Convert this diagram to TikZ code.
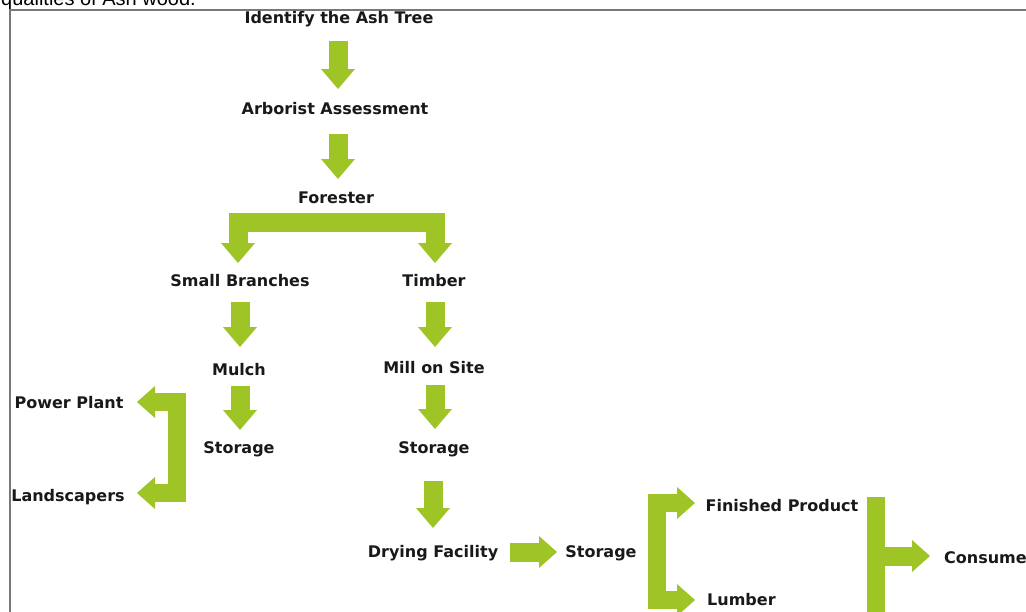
\documentclass[tikz,border=0pt]{standalone}
\usepackage{fontspec}
\setmainfont{DejaVu Sans}
\newfontfamily\capfont{Liberation Sans}
\usetikzlibrary{arrows.meta}
\definecolor{leaf}{RGB}{158,196,38}
\definecolor{ink}{RGB}{25,25,25}
\definecolor{framegray}{RGB}{120,120,120}
\tikzset{
  lbl/.style={font=\fontsize{16}{19}\selectfont\bfseries, text=ink, inner sep=0pt, anchor=base},
  tip/.tip={Triangle[width=34pt,length=20pt,line width=0pt]},
  htip/.tip={Triangle[width=32pt,length=18pt,line width=0pt]},
  blk/.style={draw=leaf, line width=19pt, line join=miter, -tip},
  hblk/.style={draw=leaf, line width=19pt, line join=miter, -htip},
  fork/.style={draw=leaf, line width=19pt, line join=miter, tip-tip},
  hfork/.style={draw=leaf, line width=18pt, line join=miter, htip-htip},
  bar/.style={draw=leaf, line width=18pt},
}
\begin{document}
\begin{tikzpicture}[x=1pt,y=-1pt]
\useasboundingbox (0,0) rectangle (1026,611);
\begin{scope}
\clip (0,0) rectangle (1026,611);
\node[font=\capfont\fontsize{20}{24}\selectfont, anchor=base west, inner sep=0pt, text=black] (cap) at (1,5) {qualities of Ash wood.};
\draw[framegray, line width=1.3pt] (10,615) -- (10,10) -- (1030,10);

% labels
\node[lbl] (idt) at (339,23) {Identify the Ash Tree};
\node[lbl] (arb) at (335,114) {Arborist Assessment};
\node[lbl] (fst) at (336,203) {Forester};
\node[lbl] (smb) at (240,286) {Small Branches};
\node[lbl] (tim) at (434,286) {Timber};
\node[lbl] (mul) at (239,375) {Mulch};
\node[lbl] (mil) at (434,373) {Mill on Site};
\node[lbl] (pwr) at (69,408) {Power Plant};
\node[lbl] (sta) at (239,453) {Storage};
\node[lbl] (stb) at (434,453) {Storage};
\node[lbl] (lnd) at (68,501) {Landscapers};
\node[lbl] (dry) at (433,557) {Drying Facility};
\node[lbl] (stc) at (601,557) {Storage};
\node[lbl] (fin) at (782,511) {Finished Product};
\node[lbl, anchor=base west] (lum) at (707,605) {Lumber};
\node[lbl, anchor=base west] (con) at (944,563) {Consume};

% arrow end points
\coordinate (a1s) at (338,41);  \coordinate (a1e) at (338,89);
\coordinate (a2s) at (338,134); \coordinate (a2e) at (338,179);
\coordinate (fl) at (238,263); \coordinate (flc) at (238,222);
\coordinate (frc) at (435,222); \coordinate (fr) at (435,263);
\coordinate (a3s) at (240,302); \coordinate (a3e) at (240,347);
\coordinate (a4s) at (435,302); \coordinate (a4e) at (435,347);
\coordinate (a5s) at (240,386); \coordinate (a5e) at (240,430);
\coordinate (a6s) at (435,385); \coordinate (a6e) at (435,429);
\coordinate (a7s) at (433,481); \coordinate (a7e) at (433,528);
\coordinate (lpt) at (137,402); \coordinate (lpc) at (177,402);
\coordinate (llc) at (177,493); \coordinate (llt) at (137,493);
\coordinate (a8s) at (510,552); \coordinate (a8e) at (557,552);
\coordinate (rft) at (695,503); \coordinate (rfc) at (657,503);
\coordinate (rlc) at (657,600); \coordinate (rlt) at (695,600);
\coordinate (ttop) at (876,497); \coordinate (tbot) at (876,620);
\coordinate (tas) at (876,556); \coordinate (tae) at (930,556);

% connectors
\draw[blk] (a1s) -- (a1e);
\draw[blk] (a2s) -- (a2e);
\draw[fork] (fl) -- (flc) -- (frc) -- (fr);
\draw[blk] (a3s) -- (a3e);
\draw[blk] (a4s) -- (a4e);
\draw[blk] (a5s) -- (a5e);
\draw[blk] (a6s) -- (a6e);
\draw[blk] (a7s) -- (a7e);
\draw[hfork] (lpt) -- (lpc) -- (llc) -- (llt);
\draw[hblk] (a8s) -- (a8e);
\draw[hfork] (rft) -- (rfc) -- (rlc) -- (rlt);
\draw[bar] (ttop) -- (tbot);
\draw[hblk] (tas) -- (tae);
\end{scope}
\end{tikzpicture}
\end{document}
